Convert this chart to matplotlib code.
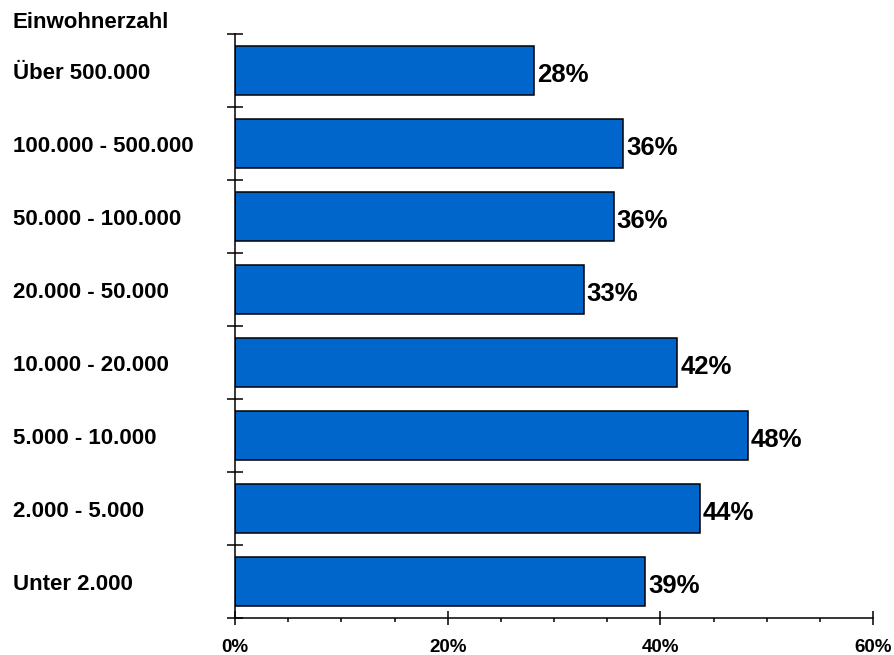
import matplotlib
matplotlib.use("Agg")
import matplotlib.pyplot as plt
from matplotlib.ticker import MultipleLocator, FuncFormatter
import matplotlib.transforms as mtransforms

plt.rcParams['font.family'] = ['Liberation Sans', 'DejaVu Sans']
plt.rcParams['font.weight'] = 'bold'

# data, top to bottom as in the chart
kategorien = ['Über 500.000', '100.000 - 500.000', '50.000 - 100.000', '20.000 - 50.000',
              '10.000 - 20.000', '5.000 - 10.000', '2.000 - 5.000', 'Unter 2.000']
werte = [28.1, 36.5, 35.6, 32.8, 41.6, 48.2, 43.7, 38.6]
beschriftung = ['28%', '36%', '36%', '33%', '42%', '48%', '44%', '39%']
titel = 'Einwohnerzahl'

n = len(kategorien)
pos = [n - 1 - i for i in range(n)]

fig = plt.figure(figsize=(8.94, 6.55), dpi=100)
ax = fig.add_axes([235 / 894, 1 - 618 / 655, (873 - 235) / 894, (618 - 34) / 655])

ax.barh(pos, werte, height=0.68, color='#0066CC', edgecolor='black', linewidth=1.1)

ax.set_xlim(0, 60)
ax.set_ylim(-0.5, n - 0.5)

for s in ['top', 'right']:
    ax.spines[s].set_visible(False)
for s in ['left', 'bottom']:
    ax.spines[s].set_linewidth(1.1)

ax.xaxis.set_major_locator(MultipleLocator(20))
ax.xaxis.set_minor_locator(MultipleLocator(5))
ax.xaxis.set_major_formatter(FuncFormatter(lambda v, p: '%d%%' % v))
ax.tick_params(axis='x', which='major', direction='inout', length=10, width=1.1,
               labelsize=13.5, pad=10)
ax.tick_params(axis='x', which='minor', direction='out', length=3, width=1.1)

ax.set_yticks([i - 0.5 for i in range(n + 1)])
ax.set_yticklabels([])
ax.tick_params(axis='y', direction='inout', length=11, width=1.1)

# category labels, left aligned at the figure edge
trans = mtransforms.blended_transform_factory(fig.transFigure, ax.transData)
off = mtransforms.ScaledTranslation(0, -3 / 100, fig.dpi_scale_trans)
for p, k in zip(pos, kategorien):
    ax.text(13 / 894, p, k, transform=trans + off, ha='left', va='center',
            fontsize=16, fontweight='bold')

fig.text(13 / 894, 1 - 23 / 655, titel, ha='left', va='center', fontsize=16, fontweight='bold')

# value labels
for p, w, b in zip(pos, werte, beschriftung):
    ax.annotate(b, (w, p), xytext=(2.2, -3.3), textcoords='offset points',
                ha='left', va='center', fontsize=18.5, fontweight='bold')

fig.savefig('out.png', dpi=100)
